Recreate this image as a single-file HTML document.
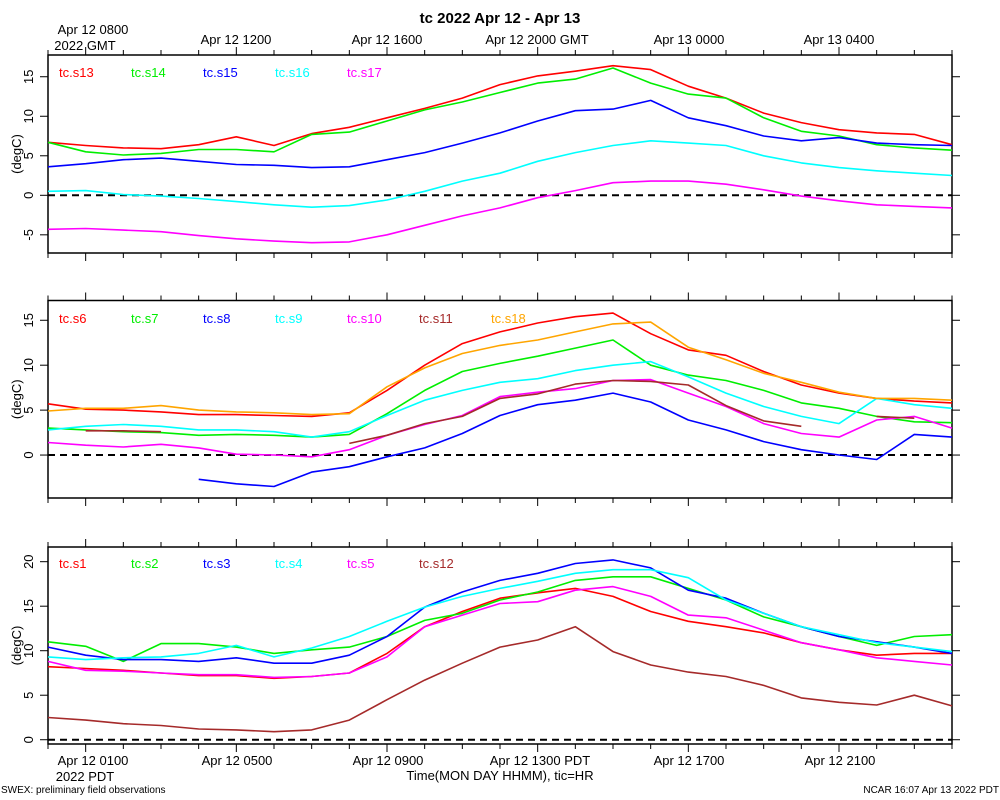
<!DOCTYPE html>
<html><head><meta charset="utf-8"><style>
html,body{margin:0;padding:0;background:#fff;}
svg{display:block;font-family:"Liberation Sans",Arial,sans-serif;}
</style></head><body>
<svg id="chart" width="1000" height="800" viewBox="0 0 1000 800">
<text x="500" y="23" text-anchor="middle" font-size="15" font-weight="bold">tc 2022 Apr 12 - Apr 13</text>
<text x="93" y="34" text-anchor="middle" font-size="13">Apr 12 0800</text>
<text x="85" y="50" text-anchor="middle" font-size="13">2022 GMT</text>
<text x="236" y="44" text-anchor="middle" font-size="13">Apr 12 1200</text>
<text x="387" y="44" text-anchor="middle" font-size="13">Apr 12 1600</text>
<text x="537" y="44" text-anchor="middle" font-size="13">Apr 12 2000 GMT</text>
<text x="689" y="44" text-anchor="middle" font-size="13">Apr 13 0000</text>
<text x="839" y="44" text-anchor="middle" font-size="13">Apr 13 0400</text>
<text x="93" y="765" text-anchor="middle" font-size="13">Apr 12 0100</text>
<text x="85" y="781" text-anchor="middle" font-size="13">2022 PDT</text>
<text x="237" y="765" text-anchor="middle" font-size="13">Apr 12 0500</text>
<text x="388" y="765" text-anchor="middle" font-size="13">Apr 12 0900</text>
<text x="540" y="765" text-anchor="middle" font-size="13">Apr 12 1300 PDT</text>
<text x="689" y="765" text-anchor="middle" font-size="13">Apr 12 1700</text>
<text x="840" y="765" text-anchor="middle" font-size="13">Apr 12 2100</text>
<text x="500" y="780" text-anchor="middle" font-size="13">Time(MON DAY HHMM), tic=HR</text>
<text x="1" y="793" font-size="10">SWEX: preliminary field observations</text>
<text x="999" y="793" text-anchor="end" font-size="10">NCAR 16:07 Apr 13 2022 PDT</text>
</svg>
<script>
const hours = [0,1,2,3,4,5,6,7,8,9,10,11,12,13,14,15,16,17,18,19,20,21,22,23,24];
// panel 1
const p1Names = ["tc.s13","tc.s14","tc.s15","tc.s16","tc.s17"];
const s13 = [6.7,6.3,6.0,5.9,6.4,7.4,6.3,7.8,8.6,9.8,11.0,12.3,14.0,15.1,15.7,16.4,15.9,13.8,12.3,10.4,9.2,8.3,7.9,7.7,6.4];
const s14 = [6.7,5.5,5.1,5.3,5.8,5.8,5.5,7.7,8.0,9.4,10.8,11.8,13.0,14.2,14.7,16.1,14.2,12.8,12.3,9.8,8.1,7.5,6.4,6.0,5.7];
const s15 = [3.6,4.0,4.5,4.7,4.3,3.9,3.8,3.5,3.6,4.5,5.4,6.6,7.9,9.4,10.7,10.9,12.0,9.8,8.8,7.5,6.9,7.3,6.6,6.4,6.3];
const s16 = [0.5,0.6,0.1,-0.1,-0.4,-0.8,-1.2,-1.5,-1.3,-0.6,0.5,1.8,2.8,4.3,5.4,6.3,6.9,6.6,6.3,5.0,4.1,3.5,3.1,2.8,2.5];
const s17 = [-4.3,-4.2,-4.4,-4.6,-5.1,-5.5,-5.8,-6.0,-5.9,-5.0,-3.8,-2.6,-1.6,-0.3,0.6,1.6,1.8,1.8,1.4,0.7,-0.1,-0.7,-1.2,-1.4,-1.6];
const p1Ticks = [-5,0,5,10,15];
// panel 2
const p2Names = ["tc.s6","tc.s7","tc.s8","tc.s9","tc.s10","tc.s11","tc.s18"];
const s6 = [5.7,5.1,5.0,4.8,4.5,4.5,4.4,4.3,4.7,7.2,10.0,12.4,13.7,14.7,15.4,15.8,13.5,11.7,11.1,9.3,7.8,6.9,6.3,6.0,5.8];
const s7 = [3.0,2.8,2.6,2.5,2.2,2.3,2.2,2.0,2.3,4.6,7.2,9.3,10.2,11.0,11.9,12.8,10.0,8.9,8.3,7.2,5.8,5.2,4.3,3.7,3.6];
const s8 = [null,null,null,null,-2.7,-3.2,-3.5,-1.9,-1.3,-0.2,0.8,2.4,4.4,5.6,6.1,6.9,5.9,3.9,2.8,1.5,0.6,0.0,-0.5,2.3,2.0];
const s9 = [2.8,3.2,3.4,3.2,2.8,2.8,2.6,2.0,2.6,4.4,6.1,7.2,8.1,8.5,9.4,10.0,10.4,8.7,6.9,5.4,4.3,3.5,6.3,5.6,5.2];
const s10 = [1.4,1.1,0.9,1.2,0.8,0.1,0.0,-0.2,0.6,2.2,3.4,4.4,6.5,7.0,7.4,8.3,8.4,6.9,5.4,3.5,2.4,2.0,3.9,4.3,3.0];
const s11 = [null,2.7,2.7,2.6,null,null,null,null,1.3,2.2,3.5,4.3,6.3,6.8,7.9,8.3,8.2,7.8,5.5,3.8,3.2,null,4.3,4.1,null];
const s18 = [4.9,5.2,5.2,5.5,5.0,4.8,4.7,4.5,4.6,7.6,9.7,11.3,12.2,12.8,13.7,14.6,14.8,12.0,10.6,9.1,8.1,7.0,6.3,6.3,6.1];
const p2Ticks = [0,5,10,15];
// panel 3
const p3Names = ["tc.s1","tc.s2","tc.s3","tc.s4","tc.s5","tc.s12"];
const s1 = [8.2,8.0,7.8,7.5,7.2,7.2,6.9,7.1,7.5,9.7,12.7,14.4,15.9,16.5,17.0,16.1,14.4,13.3,12.7,12.0,10.9,10.1,9.5,9.7,9.7];
const s2 = [11.0,10.5,8.8,10.8,10.8,10.4,9.7,10.1,10.4,11.6,13.4,14.2,15.7,16.6,17.9,18.3,18.3,17.0,15.7,13.8,12.7,11.6,10.6,11.6,11.8];
const s3 = [10.4,9.5,9.0,9.0,8.8,9.2,8.6,8.6,9.5,11.6,14.9,16.6,17.9,18.7,19.8,20.2,19.3,16.8,15.9,14.2,12.7,11.6,11.0,10.4,9.7];
const s4 = [9.3,9.0,9.2,9.3,9.7,10.6,9.3,10.3,11.6,13.3,14.9,16.1,17.0,17.8,18.7,19.1,19.1,18.2,15.7,14.2,12.7,11.8,10.9,10.4,9.9];
const s5 = [8.8,7.8,7.7,7.5,7.3,7.3,7.0,7.1,7.5,9.3,12.7,14.0,15.3,15.5,16.8,17.2,16.1,14.0,13.7,12.3,10.9,10.1,9.2,8.8,8.4];
const s12 = [2.5,2.2,1.8,1.6,1.2,1.1,0.9,1.1,2.2,4.5,6.7,8.6,10.4,11.2,12.7,9.9,8.4,7.6,7.1,6.1,4.7,4.2,3.9,5.0,3.8];
const p3Ticks = [0,5,10,15,20];

const svg = document.getElementById('chart');
const NS = 'http://www.w3.org/2000/svg';
const X0 = 48, X1 = 952, HMAX = 24;
function xs(h){ return X0 + (X1 - X0) * h / HMAX; }
function mk(tag, attrs){ const e = document.createElementNS(NS, tag); for (const k in attrs) e.setAttribute(k, attrs[k]); svg.appendChild(e); return e; }

const panels = [
  {key:'top', top:55, bottom:253, vTop:17.75, vBot:-7.3, ticks:p1Ticks, names:p1Names, series:[s13,s14,s15,s16,s17], colors:['#ff0000','#00ee00','#0000ff','#00ffff','#ff00ff'], legY:77},
  {key:'middle', top:300.5, bottom:498, vTop:17.2, vBot:-4.78, ticks:p2Ticks, names:p2Names, series:[s6,s7,s8,s9,s10,s11,s18], colors:['#ff0000','#00ee00','#0000ff','#00ffff','#ff00ff','#a52a2a','#ffa500'], legY:323},
  {key:'bottom', top:547, bottom:744, vTop:21.65, vBot:-0.48, ticks:p3Ticks, names:p3Names, series:[s1,s2,s3,s4,s5,s12], colors:['#ff0000','#00ee00','#0000ff','#00ffff','#ff00ff','#a52a2a'], legY:568}
];

panels.forEach(p => {
  const ys = v => p.top + (p.vTop - v) / (p.vTop - p.vBot) * (p.bottom - p.top);
  const box = mk('rect', {x:X0, y:p.top, width:X1-X0, height:p.bottom-p.top, fill:'none', stroke:'#000', 'stroke-width':1.5});
  
  
  // hour ticks
  hours.forEach(h => {
    const major = (h % 4 === 1);
    const len = major ? 8 : 5;
    const tt = mk('line', {x1:xs(h), x2:xs(h), y1:p.top, y2:p.top-len, stroke:'#000', 'stroke-width':1});
    
    
    const bt = mk('line', {x1:xs(h), x2:xs(h), y1:p.bottom, y2:p.bottom+len, stroke:'#000', 'stroke-width':1});
    
    
  });
  // y ticks
  p.ticks.forEach(v => {
    const y = ys(v);
    const lt = mk('line', {x1:X0-8, x2:X0, y1:y, y2:y, stroke:'#000', 'stroke-width':1});
    
    
    const rt = mk('line', {x1:X1, x2:X1+8, y1:y, y2:y, stroke:'#000', 'stroke-width':1});
    
    
    const lb = mk('text', {x:0, y:0, 'text-anchor':'middle', 'font-size':13, transform:'translate(33,' + y + ') rotate(-90)'});
    lb.textContent = String(v);
    
    
  });
  const yt = mk('text', {x:0, y:0, 'text-anchor':'middle', 'font-size':13, transform:'translate(21,' + ((p.top+p.bottom)/2) + ') rotate(-90)'});
  yt.textContent = '(degC)';
  
  
  // zero line
  const z = mk('line', {x1:X0, x2:X1, y1:ys(0), y2:ys(0), stroke:'#000', 'stroke-width':2, 'stroke-dasharray':'7,5'});
  
  
  // series
  p.series.forEach((arr, i) => {
    let d = '', pen = false;
    arr.forEach((v, j) => {
      if (v === null) { pen = false; return; }
      d += (pen ? 'L' : 'M') + xs(hours[j]).toFixed(1) + ',' + ys(v).toFixed(1);
      pen = true;
    });
    const path = mk('path', {d:d, fill:'none', stroke:p.colors[i], 'stroke-width':1.6, 'stroke-linejoin':'round'});
    
    
    const lg = mk('text', {x:59 + 72*i, y:p.legY, 'font-size':13, fill:p.colors[i]});
    lg.textContent = p.names[i];
    
    
  });
});
</script>
</body></html>
